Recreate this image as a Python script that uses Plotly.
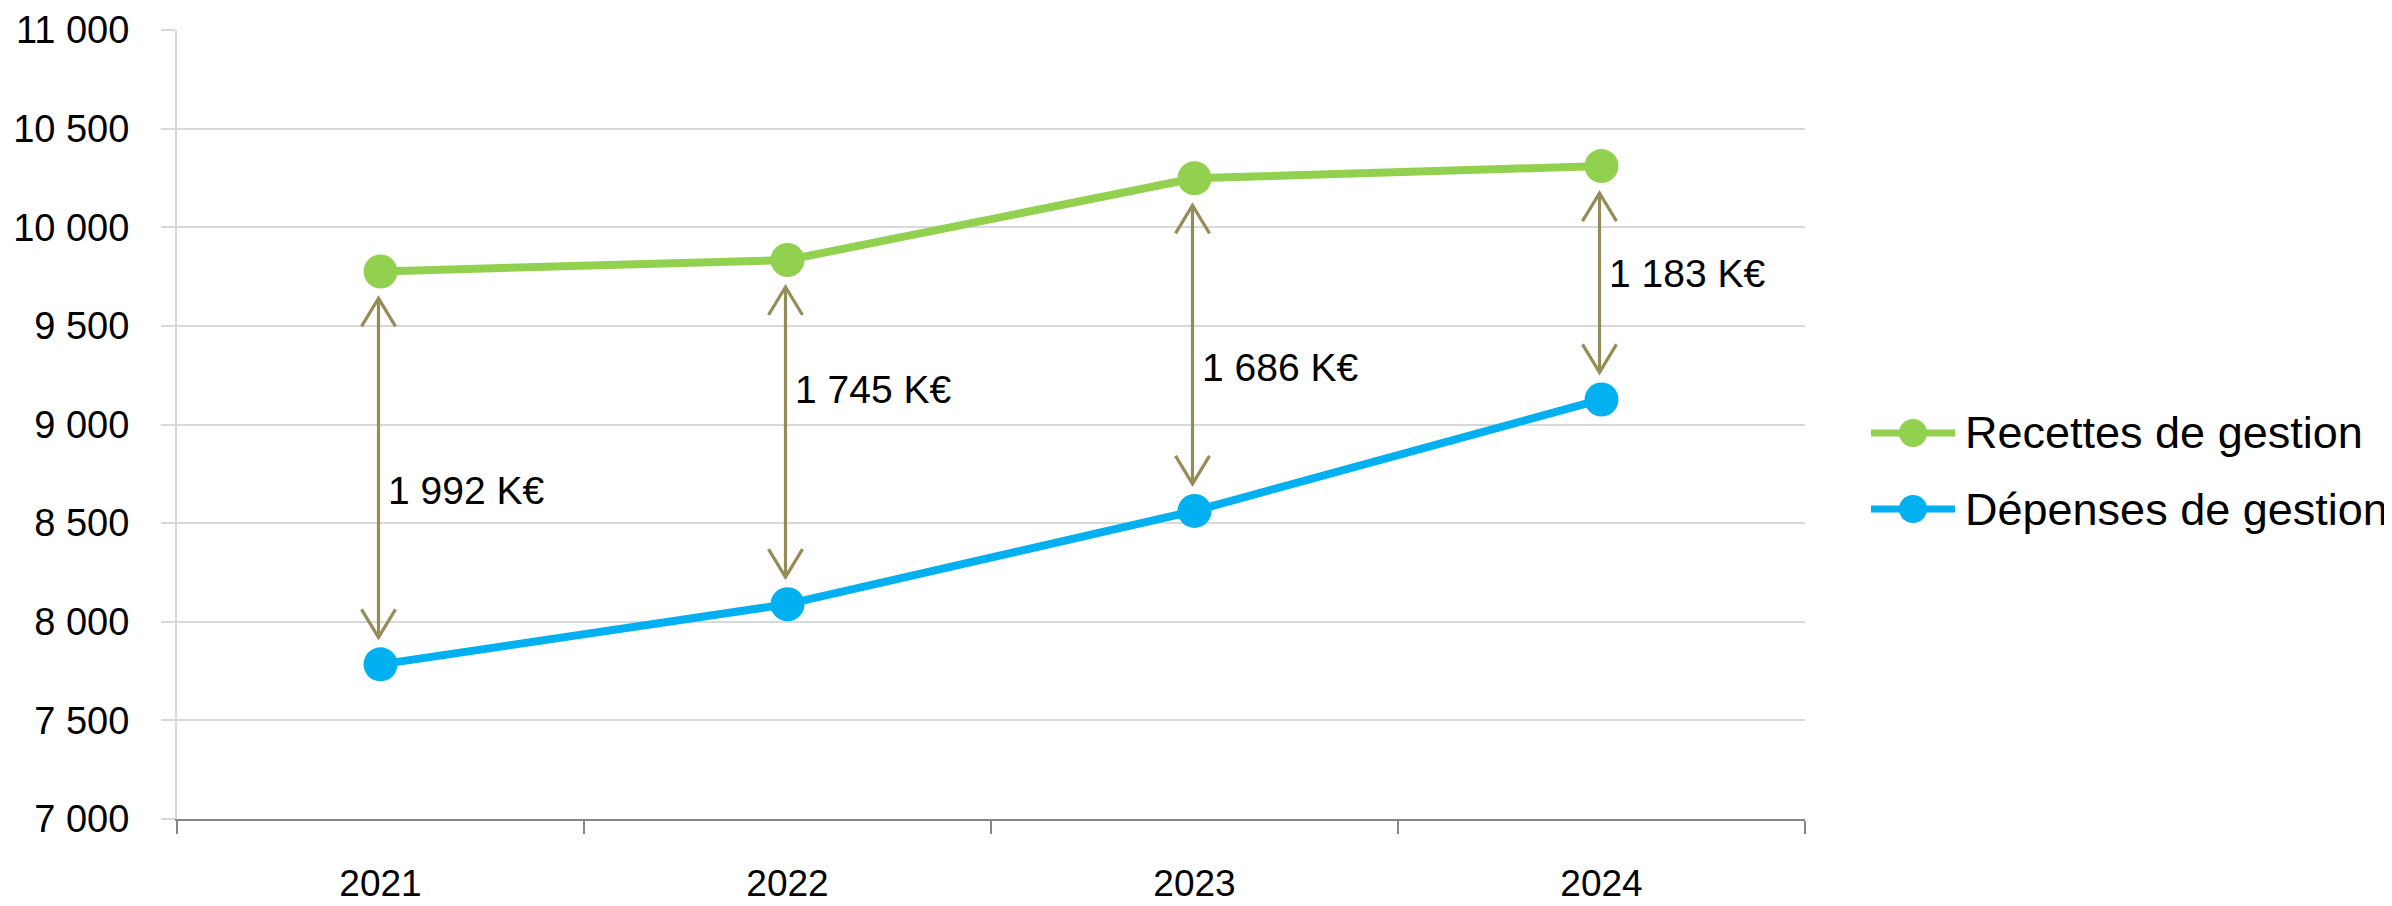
import plotly.graph_objects as go

# ---------------- data ----------------
annees = ["2021", "2022", "2023", "2024"]
recettes = [9776, 9834, 10248, 10310]
depenses = [7784, 8089, 8562, 9127]
ecarts = ["1 992 K€", "1 745 K€", "1 686 K€", "1 183 K€"]
y_ticks = [7000, 7500, 8000, 8500, 9000, 9500, 10000, 10500, 11000]
series_names = ["Recettes de gestion", "Dépenses de gestion"]

# ---------------- layout constants ----------------
OFF = 8                      # default page body margin
W, H = 2392 - OFF, 906 - OFF
ML, MR, MT, MB = 169, 587, 22, 87
PW, PH = W - ML - MR, H - MT - MB
X_RANGE = [-0.5, len(annees) - 0.5]
Y_RANGE = [y_ticks[0], y_ticks[-1]]
PX_X = PW / (X_RANGE[1] - X_RANGE[0])
PX_Y = PH / (Y_RANGE[1] - Y_RANGE[0])


def dx(p):
    return p / PX_X


def dy(p):
    return p / PX_Y


def paper_x(ref_px):
    return (ref_px - OFF - ML) / PW


def paper_y(ref_px):
    return (H - MB - (ref_px - OFF)) / PH


GREEN = "#92d050"
BLUE = "#00b0f0"
OLIVE = "#968c5a"
GRID = "#d9d9d9"
AXIS = "#868686"
SANS = "Liberation Sans, Arial, sans-serif"
LABEL_FRAC = [0.443, 0.624, 0.431, 0.538]

x_idx = list(range(len(annees)))

fig = go.Figure()

# double-headed arrows between the two series
ax_, ay_ = [], []
for i in x_idx:
    x = i + dx(-2)
    top = recettes[i] - dy(27)
    bot = depenses[i] + dy(27)
    ax_ += [x, x, None]
    ay_ += [bot, top, None]
    ax_ += [x - dx(17), x, x + dx(17), None]
    ay_ += [top - dy(28), top, top - dy(28), None]
    ax_ += [x - dx(17), x, x + dx(17), None]
    ay_ += [bot + dy(28), bot, bot + dy(28), None]
fig.add_trace(go.Scatter(x=ax_, y=ay_, mode="lines",
                         line=dict(color=OLIVE, width=3.2),
                         hoverinfo="skip", showlegend=False))

for name, vals, col in [(series_names[0], recettes, GREEN),
                        (series_names[1], depenses, BLUE)]:
    fig.add_trace(go.Scatter(x=x_idx, y=vals, mode="lines+markers", name=name,
                             line=dict(color=col, width=8),
                             marker=dict(color=col, size=34),
                             showlegend=False))

annotations = []
for i in x_idx:
    annotations.append(dict(
        x=i, y=depenses[i] + LABEL_FRAC[i] * (recettes[i] - depenses[i]),
        xref="x", yref="y", text=ecarts[i], showarrow=False,
        xanchor="left", yanchor="middle", xshift=5,
        font=dict(family=SANS, size=39, color="#000000")))

# legend (drawn by hand so the symbol line is as long as in the reference)
shapes = []
LEG_ROWS = [(series_names[0], GREEN, 433), (series_names[1], BLUE, 509)]
for name, col, ypix in LEG_ROWS:
    yp = paper_y(ypix)
    shapes.append(dict(type="line", xref="paper", yref="paper",
                       x0=paper_x(1871), x1=paper_x(1955), y0=yp, y1=yp,
                       line=dict(color=col, width=7)))
    shapes.append(dict(type="circle", xref="paper", yref="paper",
                       xsizemode="pixel", ysizemode="pixel",
                       xanchor=paper_x(1913), yanchor=yp,
                       x0=-14, x1=14, y0=-14, y1=14,
                       fillcolor=col, line=dict(color=col, width=0)))
    annotations.append(dict(x=paper_x(1963), y=yp, xref="paper", yref="paper",
                            text=name, showarrow=False, xanchor="left",
                            yanchor="middle",
                            font=dict(family=SANS, size=45, color="#000000")))

fig.update_layout(
    width=W, height=H,
    margin=dict(l=ML, r=MR, t=MT, b=MB, autoexpand=False),
    paper_bgcolor="white", plot_bgcolor="white",
    separators=", ",
    showlegend=False,
    annotations=annotations,
    shapes=shapes,
    xaxis=dict(range=X_RANGE, tickmode="array", tickvals=x_idx, ticktext=annees,
               showgrid=False, zeroline=False, ticks="",
               showline=True, linecolor=AXIS, linewidth=2,
               ticklabelstandoff=31,
               tickfont=dict(family=SANS, size=37, color="#000000"),
               minor=dict(tickmode="linear", tick0=-0.5, dtick=1,
                          ticks="outside", ticklen=13, tickwidth=2,
                          tickcolor=AXIS, showgrid=False)),
    yaxis=dict(range=Y_RANGE, tickmode="array", tickvals=y_ticks,
               tickformat=",d", showgrid=True, gridcolor=GRID, gridwidth=2,
               zeroline=False, showline=True, linecolor=GRID, linewidth=2,
               ticks="outside", ticklen=14, tickwidth=2, tickcolor=GRID,
               ticklabelstandoff=24,
               tickfont=dict(family=SANS, size=38, color="#000000")),
)

fig.write_html("out.html")
